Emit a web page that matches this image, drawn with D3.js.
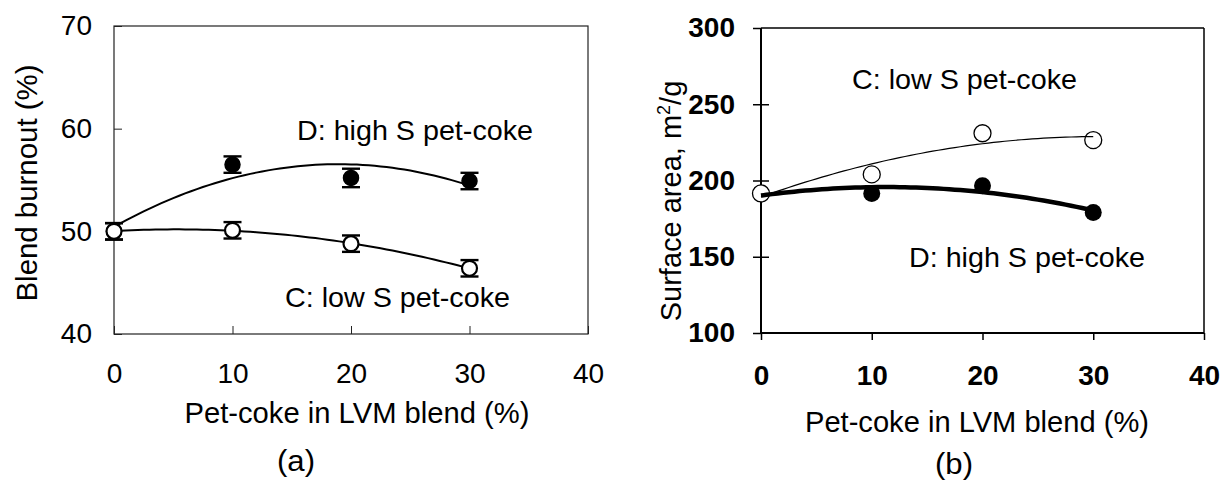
<!DOCTYPE html>
<html>
<head>
<meta charset="utf-8">
<script src="https://cdn.jsdelivr.net/npm/d3@7"></script>
<style>
  html, body { margin: 0; padding: 0; background: #fff; }
  svg { display: block; font-family: "Liberation Sans", Arial, sans-serif; }
</style>
</head>
<body>
<svg id="chart" width="1224" height="480"></svg>
<script>
// ---------- data ----------
const petcoke = [0, 10, 20, 30];                 // % pet-coke in LVM blend
const xTicks = [0, 10, 20, 30, 40];

// panel (a) blend burnout (%)
const burnoutTicks = [40, 50, 60, 70];
const burnoutHighS = [50, 56.5, 55.2, 54.9];     // D: high S pet-coke
const burnoutHighSErr = [0.8, 0.8, 0.9, 0.8];
const burnoutLowS = [50, 50.1, 48.8, 46.4];      // C: low S pet-coke
const burnoutLowSErr = [0.8, 0.8, 0.8, 0.8];

// panel (b) surface area (m2/g)
const surfaceTicks = [100, 150, 200, 250, 300];
const surfaceLowS = [191.5, 204, 231, 226.5];    // C: low S pet-coke
const surfaceHighS = [191.5, 191.5, 196.5, 179]; // D: high S pet-coke

// ---------- helpers ----------
function quadFit(xs, ys) {
  // least-squares 2nd order polynomial trend line (as in spreadsheet trendline)
  let s = [0,0,0,0,0], t = [0,0,0];
  xs.forEach((x, i) => {
    for (let k = 0; k < 5; k++) s[k] += Math.pow(x, k);
    for (let k = 0; k < 3; k++) t[k] += Math.pow(x, k) * ys[i];
  });
  const M = [[s[0], s[1], s[2], t[0]], [s[1], s[2], s[3], t[1]], [s[2], s[3], s[4], t[2]]];
  for (let i = 0; i < 3; i++) {
    for (let j = i + 1; j < 3; j++) {
      const f = M[j][i] / M[i][i];
      for (let k = i; k < 4; k++) M[j][k] -= f * M[i][k];
    }
  }
  const c = [0, 0, 0];
  for (let i = 2; i >= 0; i--) {
    let v = M[i][3];
    for (let k = i + 1; k < 3; k++) v -= M[i][k] * c[k];
    c[i] = v / M[i][i];
  }
  return x => c[0] + c[1] * x + c[2] * x * x;
}

const svg = d3.select("#chart");
const FONT = '"Liberation Sans", Arial, sans-serif';

function styleAxisText(g, size, weight) {
  g.attr("font-family", FONT).attr("font-size", size);
  g.selectAll("text").attr("fill", "#000").attr("font-weight", weight || "normal");
  g.select(".domain").remove();
}
function label(g, x, y, size, txt, len, anchor) {
  const t = g.append("text").attr("x", x).attr("y", y).attr("font-size", size)
    .attr("font-family", FONT).attr("text-anchor", anchor || "start").text(txt);
  if (len) t.attr("textLength", len).attr("lengthAdjust", "spacingAndGlyphs");
  return t;
}

// ================= PANEL (a) =================
(function () {
  const x = d3.scaleLinear().domain([0, 40]).range([114, 588]);
  const y = d3.scaleLinear().domain([40, 70]).range([334, 26]);
  const g = svg.append("g");

  g.append("rect")
    .attr("x", x(0)).attr("y", y(70))
    .attr("width", x(40) - x(0)).attr("height", y(40) - y(70))
    .attr("fill", "none").attr("stroke", "#222").attr("stroke-width", 1.2);

  const ax = g.append("g").attr("transform", `translate(0,${y(40)})`)
    .call(d3.axisBottom(x).tickValues(xTicks).tickSizeInner(-8).tickSizeOuter(0).tickPadding(29));
  styleAxisText(ax, 28);
  ax.selectAll("line").attr("stroke", "#222");

  const ay = g.append("g").attr("transform", `translate(${x(0)},0)`)
    .call(d3.axisLeft(y).tickValues(burnoutTicks).tickSizeInner(-8).tickSizeOuter(0).tickPadding(22));
  styleAxisText(ay, 28);
  ay.selectAll("line").attr("stroke", "#222");

  const line = d3.line().x(d => x(d[0])).y(d => y(d[1]));
  const fitHigh = quadFit(petcoke, burnoutHighS);
  const fitLow = quadFit(petcoke, burnoutLowS);
  const xs = d3.range(0, 30.01, 0.5);
  g.append("path").attr("d", line(xs.map(v => [v, fitHigh(v)])))
    .attr("fill", "none").attr("stroke", "#000").attr("stroke-width", 2);
  g.append("path").attr("d", line(xs.map(v => [v, fitLow(v)])))
    .attr("fill", "none").attr("stroke", "#000").attr("stroke-width", 2);

  function errorBars(vals, errs) {
    const eg = g.append("g").attr("stroke", "#000").attr("stroke-width", 2.4);
    petcoke.forEach((p, i) => {
      const cx = x(p), y1 = y(vals[i] + errs[i]), y2 = y(vals[i] - errs[i]);
      eg.append("line").attr("x1", cx).attr("x2", cx).attr("y1", y1).attr("y2", y2);
      eg.append("line").attr("x1", cx - 9).attr("x2", cx + 9).attr("y1", y1).attr("y2", y1);
      eg.append("line").attr("x1", cx - 9).attr("x2", cx + 9).attr("y1", y2).attr("y2", y2);
    });
  }
  errorBars(burnoutHighS, burnoutHighSErr);
  errorBars(burnoutLowS, burnoutLowSErr);

  g.selectAll(".ptH").data(petcoke).join("circle")
    .attr("cx", d => x(d)).attr("cy", (d, i) => y(burnoutHighS[i])).attr("r", 7.5)
    .attr("fill", "#000").attr("stroke", "#000").attr("stroke-width", 1.5);
  g.selectAll(".ptL").data(petcoke).join("circle")
    .attr("cx", d => x(d)).attr("cy", (d, i) => y(burnoutLowS[i])).attr("r", 7.5)
    .attr("fill", "#fff").attr("stroke", "#000").attr("stroke-width", 2.2);

  label(g, 297, 140, 28.5, "D: high S pet-coke", 236);
  label(g, 285, 307, 28.5, "C: low S pet-coke", 225);
  label(g, 357, 423, 30, "Pet-coke in LVM blend (%)", 345, "middle");
  label(g, 296, 471, 30, "(a)", 38, "middle");
  g.append("text").attr("transform", "translate(37,183) rotate(-90)").attr("text-anchor", "middle")
    .attr("font-size", 29.5).attr("font-family", FONT)
    .attr("textLength", 237).attr("lengthAdjust", "spacingAndGlyphs")
    .text("Blend burnout (%)");
})();

// ================= PANEL (b) =================
(function () {
  const x = d3.scaleLinear().domain([0, 40]).range([761, 1204]);
  const y = d3.scaleLinear().domain([100, 300]).range([333, 28]);
  const g = svg.append("g");

  g.append("line").attr("x1", x(0)).attr("x2", x(40)).attr("y1", y(300)).attr("y2", y(300))
    .attr("stroke", "#000").attr("stroke-width", 1.5);
  g.append("line").attr("x1", x(40)).attr("x2", x(40)).attr("y1", y(300)).attr("y2", y(100))
    .attr("stroke", "#000").attr("stroke-width", 1.5);
  g.append("line").attr("x1", x(0)).attr("x2", x(40)).attr("y1", y(100)).attr("y2", y(100))
    .attr("stroke", "#000").attr("stroke-width", 2);
  g.append("line").attr("x1", x(0)).attr("x2", x(0)).attr("y1", y(300)).attr("y2", y(100))
    .attr("stroke", "#000").attr("stroke-width", 2);

  const ax = g.append("g").attr("transform", `translate(0,${y(100)})`)
    .call(d3.axisBottom(x).tickValues(xTicks).tickSizeInner(7).tickSizeOuter(0).tickPadding(25));
  styleAxisText(ax, 28, "bold");
  ax.selectAll("line").attr("stroke", "#000").attr("stroke-width", 1.5);

  const ay = g.append("g").attr("transform", `translate(${x(0)},0)`)
    .call(d3.axisLeft(y).tickValues(surfaceTicks).tickSizeInner(8).tickSizeOuter(0).tickPadding(18));
  styleAxisText(ay, 28, "bold");
  ay.selectAll("line").attr("stroke", "#000").attr("stroke-width", 1.5)
    .attr("x1", d => (d === 100 || d === 300) ? 0 : 8);

  const line = d3.line().x(d => x(d[0])).y(d => y(d[1]));
  const fitLow = quadFit(petcoke, surfaceLowS);
  const fitHigh = quadFit(petcoke, surfaceHighS);
  const xs = d3.range(0, 30.01, 0.5);

  g.selectAll(".ptH").data(petcoke).join("circle")
    .attr("cx", d => x(d)).attr("cy", (d, i) => y(surfaceHighS[i])).attr("r", 8.5)
    .attr("fill", "#000");
  g.selectAll(".ptL").data(petcoke).join("circle")
    .attr("cx", d => x(d)).attr("cy", (d, i) => y(surfaceLowS[i])).attr("r", 8.5)
    .attr("fill", "#fff").attr("stroke", "#000").attr("stroke-width", 1.3);

  g.append("path").attr("d", line(xs.map(v => [v, fitHigh(v)])))
    .attr("fill", "none").attr("stroke", "#000").attr("stroke-width", 4.5);
  g.append("path").attr("d", line(xs.map(v => [v, fitLow(v)])))
    .attr("fill", "none").attr("stroke", "#000").attr("stroke-width", 1.2);

  label(g, 852, 89, 28.5, "C: low S pet-coke", 225);
  label(g, 909, 267, 28.5, "D: high S pet-coke", 236);
  label(g, 977, 432, 30, "Pet-coke in LVM blend (%)", 344, "middle");
  label(g, 954, 474, 30, "(b)", 38, "middle");

  const yt = g.append("text").attr("transform", "translate(681,201) rotate(-90)").attr("text-anchor", "middle")
    .attr("font-size", 29).attr("font-family", FONT);
  yt.append("tspan").text("Surface area,  m");
  yt.append("tspan").attr("font-size", 18).attr("dy", -11).text("2");
  yt.append("tspan").attr("dy", 11).text("/g");
})();
</script>
</body>
</html>
